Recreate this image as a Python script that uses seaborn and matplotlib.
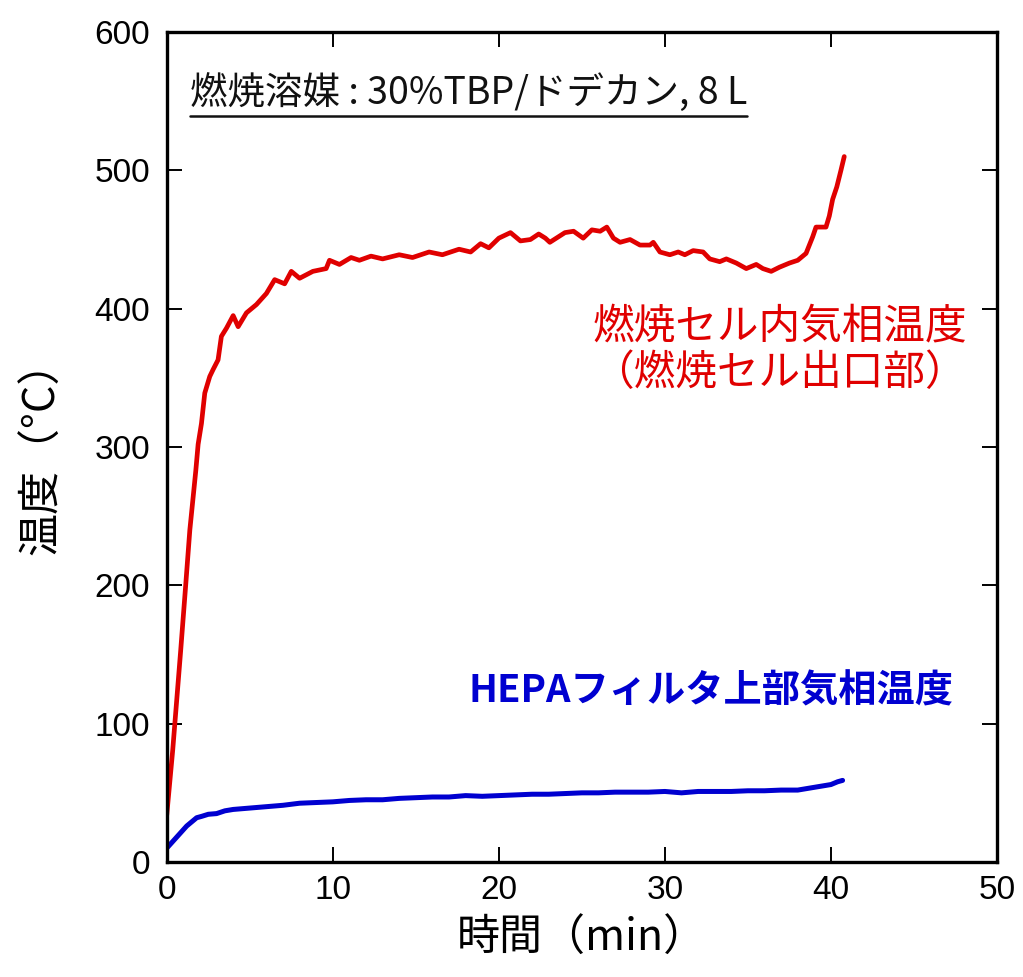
import matplotlib
matplotlib.use("Agg")
import matplotlib.pyplot as plt
from matplotlib.lines import Line2D
import seaborn as sns
import pandas as pd

# 燃焼セル内気相温度（燃焼セル出口部）
cell_t = [0.0, 0.36, 0.6, 0.84, 1.14, 1.39, 1.75, 1.89, 2.09, 2.29, 2.59, 2.79,
          3.09, 3.29, 3.6, 4.0, 4.3, 4.8, 5.4, 6.0, 6.5, 7.1, 7.5, 8.0, 8.8,
          9.6, 9.8, 10.4, 11.1, 11.6, 12.3, 13.0, 14.0, 14.8, 15.8, 16.6, 17.6,
          18.3, 18.9, 19.4, 20.0, 20.7, 21.3, 21.9, 22.4, 22.8, 23.07, 23.98,
          24.5, 25.08, 25.6, 26.1, 26.5, 26.9, 27.3, 27.9, 28.5, 29.1, 29.3,
          29.7, 30.3, 30.8, 31.2, 31.7, 32.3, 32.7, 33.3, 33.7, 34.3, 34.9,
          35.5, 35.9, 36.4, 36.9, 37.5, 38.0, 38.5, 38.9, 39.1, 39.7, 39.9,
          40.1, 40.35, 40.6, 40.8]
cell_T = [34, 81, 117, 153, 200, 240, 283, 302, 317, 339, 351, 356,
          363, 380, 386, 395, 387, 397, 403, 411, 421, 418, 427, 422, 427,
          429, 435, 432, 437, 435, 438, 436, 439, 437, 441, 439, 443,
          441, 447, 444, 451, 455, 449, 450, 454, 451, 448, 455,
          456, 451, 457, 456, 459, 451, 448, 450, 446, 446, 448,
          441, 439, 441, 439, 442, 441, 436, 434, 436, 433, 429,
          432, 429, 427, 430, 433, 435, 440, 452, 459, 459, 467,
          479, 488, 500, 510]

# HEPAフィルタ上部気相温度
hepa_t = [0.0, 0.3, 0.6, 0.9, 1.2, 1.5, 1.8, 2.1, 2.5, 3.0, 3.5, 4.0, 5.0, 6.0,
          7.0, 8.0, 9.0, 10.0, 11.0, 12.0, 13.0, 14.0, 15.0, 16.0, 17.0, 18.0,
          19.0, 20.0, 21.0, 22.0, 23.0, 24.0, 25.0, 26.0, 27.0, 28.0, 29.0,
          30.0, 31.0, 32.0, 33.0, 34.0, 35.0, 36.0, 37.0, 38.0, 38.5, 39.0,
          39.5, 40.0, 40.4, 40.7]
hepa_T = [10, 14, 18, 22, 26, 29, 32, 33, 34.5, 35, 37, 38, 39, 40,
          41, 42.5, 43, 43.5, 44.5, 45, 45, 46, 46.5, 47, 47, 48,
          47.5, 48, 48.5, 49, 49, 49.5, 50, 50, 50.5, 50.5, 50.5,
          51, 50, 51, 51, 51, 51.5, 51.5, 52, 52, 53, 54,
          55, 56, 58, 59]

x_ticks = [0, 10, 20, 30, 40, 50]
y_ticks = [0, 100, 200, 300, 400, 500, 600]

title_text = "燃焼溶媒 : 30%TBP/ドデカン, 8 L"
cell_label = "燃焼セル内気相温度\n（燃焼セル出口部）"
hepa_label = "HEPAフィルタ上部気相温度"
x_label = "時間（min）"
y_label = "温度（°C）"

RED = "#e00000"
BLUE = "#0000d0"

sns.set_theme(style="ticks")
plt.rcParams["font.family"] = ["Noto Sans CJK JP", "DejaVu Sans"]

fig = plt.figure(figsize=(10.23, 9.77), dpi=100)
ax = fig.add_axes([0.163, 0.1177, 0.8116, 0.8495])

cell_df = pd.DataFrame({"t": cell_t, "T": cell_T})
hepa_df = pd.DataFrame({"t": hepa_t, "T": hepa_T})
sns.lineplot(data=cell_df, x="t", y="T", ax=ax, color=RED, linewidth=3.4,
             estimator=None, sort=False)
sns.lineplot(data=hepa_df, x="t", y="T", ax=ax, color=BLUE, linewidth=3.6,
             estimator=None, sort=False)

ax.set_xlim(0, 50)
ax.set_ylim(0, 600)
ax.set_xticks(x_ticks)
ax.set_yticks(y_ticks)
tick_font = ["Liberation Sans", "DejaVu Sans"]
ax.set_xticklabels([str(v) for v in x_ticks], fontsize=24, family=tick_font,
                   color="black")
ax.set_yticklabels([str(v) for v in y_ticks], fontsize=24, family=tick_font,
                   color="black")
ax.tick_params(direction="in", length=11, width=1.4, color="black",
               top=True, right=True, pad=9)
ax.tick_params(axis="y", pad=12)
for sp in ax.spines.values():
    sp.set_visible(True)
    sp.set_linewidth(2.4)
    sp.set_color("black")

ax.set_xlabel(x_label, fontsize=31, labelpad=8, color="black",
              fontweight="normal")
ax.set_ylabel(y_label, fontsize=31, labelpad=22, color="black",
              fontweight="normal")

title = ax.text(1.4, 547, title_text, fontsize=27, color="#111111",
                ha="left", va="baseline")
ax.text(36.9, 370, cell_label, fontsize=30, color=RED, ha="center",
        va="center", multialignment="center", linespacing=1.15)
ax.text(32.8, 124, hepa_label, fontsize=27.5, color=BLUE, ha="center",
        va="center", fontweight="bold")

# underline beneath the solvent note, sized from the rendered text
fig.canvas.draw()
bb = title.get_window_extent(renderer=fig.canvas.get_renderer())
inv = fig.transFigure.inverted()
(x0, y0), (x1, _) = inv.transform([(bb.x0, bb.y0), (bb.x1, bb.y1)])
fig.add_artist(Line2D([x0, x1], [y0 - 0.002, y0 - 0.002],
                      transform=fig.transFigure, color="#111111",
                      linewidth=1.8))

fig.savefig("out.png", dpi=100, facecolor="white")
